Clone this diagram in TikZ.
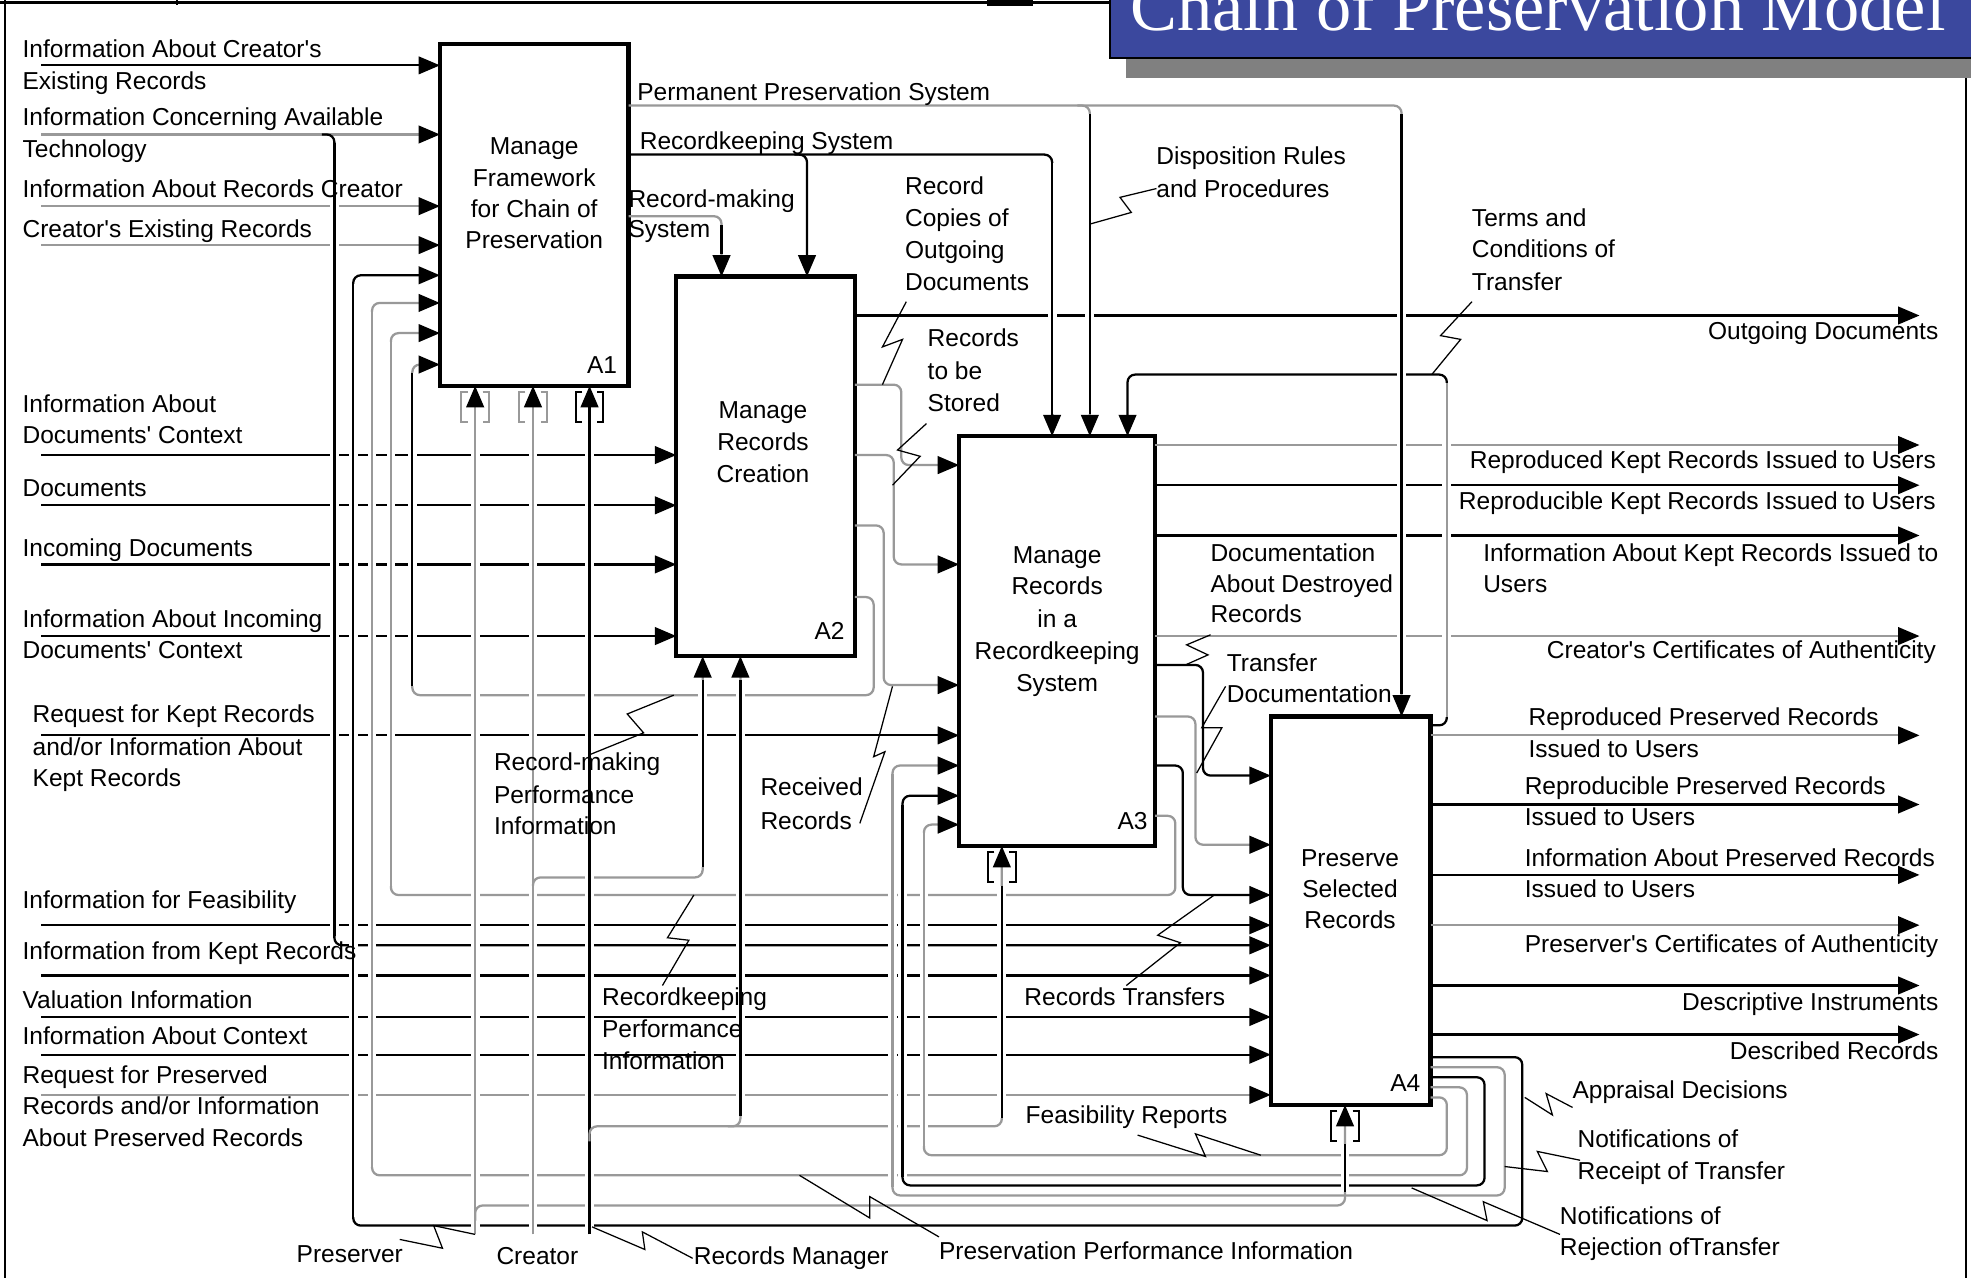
\documentclass[tikz,border=0pt]{standalone}
\usepackage{fontspec}
\setmainfont{Liberation Sans}
\newfontfamily\titlefont{Liberation Serif}
\usetikzlibrary{arrows.meta}
\definecolor{lg}{gray}{0.6}
\definecolor{titleblue}{RGB}{59,72,158}
\definecolor{shadowgray}{gray}{0.5}
\newcommand\myvh[4]{\draw[white,line width=7pt] (#1,#2) -- (#1,#3); \draw[#4,line width=1.8pt] (#1,#2) -- (#1,#3);}
\newcommand\mybrk[3]{\draw[#3,line width=1.5pt] (#1-6,#2) -- (#1-11,#2) -- (#1-11,#2+24) -- (#1-6,#2+24); \draw[#3,line width=1.5pt] (#1+6,#2) -- (#1+11,#2) -- (#1+11,#2+24) -- (#1+6,#2+24);}
\newcommand\lblw[4]{\node[lab,anchor=base west] (#1) at (#2,#3) {#4};}
\newcommand\lble[4]{\node[lab,anchor=base east] (#1) at (#2,#3) {#4};}
\newcommand\lblc[4]{\node[lab,anchor=base] (#1) at (#2,#3) {#4};}
\newcommand\q{\textquotesingle}
\begin{document}
\begin{tikzpicture}[x=1pt,y=-1pt,
 ln/.style={line width=1.8pt,rounded corners=6pt},
 ar/.style={ln,-{Triangle[length=17pt,width=14pt,color=black]}},
 zz/.style={line width=1pt},
 lab/.style={font=\fontsize{19.5}{23}\selectfont,inner sep=0pt,outer sep=0pt},
 actbox/.style={draw,line width=3.4pt,inner sep=0pt,outer sep=0pt}]
\useasboundingbox (0,0) rectangle (1568,1017);
\fill[white] (0,0) rectangle (1568,1017);
\begin{scope}
\clip (0,0) rectangle (1568,1017);
% frame
\draw[line width=2pt] (0,2) -- (883,2);
\draw[line width=2pt] (4,0) -- (4,1017);
\draw[line width=1.5pt] (141,0) -- (141,4);
\fill (785,0) rectangle (822,5);
\draw[line width=2pt] (1564,62) -- (1564,1017);
% title
\fill[shadowgray] (896,46) rectangle (1568,62);
\fill[titleblue] (883,-10) rectangle (1568,46);
\draw[line width=2pt] (883,-10) -- (883,46) -- (1568,46);
\node[anchor=base west,inner sep=0pt,text=white,font=\titlefont\fontsize{56}{60}\selectfont] (title) at (899,24) {Chain of Preservation Model};
% boxes
\node[actbox,minimum width=150pt,minimum height=272pt] (A1) at (425,171) {};
\node[actbox,minimum width=142pt,minimum height=302pt] (A2) at (609,371) {};
\node[actbox,minimum width=156pt,minimum height=326pt] (A3) at (841,510) {};
\node[actbox,minimum width=127pt,minimum height=309pt] (A4) at (1074.5,724.5) {};
% inputs to A1
\draw[ar] (33,52) -- (A1.west |- 0,52);
\draw[ar,lg] (33,107) -- (A1.west |- 0,107);
\draw[ar,lg] (33,164) -- (A1.west |- 0,164);
\draw[ar,lg] (33,195) -- (A1.west |- 0,195);
\draw[ar] (256,107) -- (266,107) -- (266,752) -- (A4.west |- 0,752);
% inputs to A2, A3, A4
\draw[ar] (33,362) -- (A2.west |- 0,362);
\draw[ar] (33,402) -- (A2.west |- 0,402);
\draw[ar] (33,449) -- (A2.west |- 0,449);
\draw[ar] (33,506) -- (A2.west |- 0,506);
\draw[ar] (33,585) -- (A3.west |- 0,585);
\draw[ar] (33,736) -- (A4.west |- 0,736);
\draw[ar] (33,776) -- (A4.west |- 0,776);
\draw[ar] (33,809) -- (A4.west |- 0,809);
\draw[ar] (33,839) -- (A4.west |- 0,839);
\draw[ar,lg] (33,871) -- (A4.west |- 0,871);
% controls from A1
\draw[ar,lg] (A1.east |- 0,84) -- (1115,84) -- (1115,0 |- A4.north);
\draw[ar,lg] (857,84) -- (867,84) -- (867,0 |- A3.north);
\draw[ar] (A1.east |- 0,123) -- (837,123) -- (837,0 |- A3.north);
\draw[ar] (632,123) -- (642,123) -- (642,0 |- A2.north);
\draw[ar,lg] (A1.east |- 0,172) -- (574,172) -- (574,0 |- A2.north);
% mechanisms
\draw[ar,lg] (378,982) -- (378,0 |- A1.south);
\draw[ar,lg] (424,982) -- (424,0 |- A1.south);
\draw[ar] (469,982) -- (469,0 |- A1.south);
\draw[ar,lg] (378,971) -- (378,959) -- (1070,959) -- (1070,0 |- A4.south);
\draw[ar,lg] (424,710) -- (424,698) -- (559,698) -- (559,0 |- A2.south);
\draw[ar,lg] (469,908) -- (469,896) -- (797,896) -- (797,0 |- A3.south);
\draw[ar,lg] (579,896) -- (589,896) -- (589,0 |- A2.south);
% A2 outputs
\draw[ar] (A2.east |- 0,251) -- (1527,251);
\draw[ar,lg] (A2.east |- 0,306) -- (717,306) -- (717,370) -- (A3.west |- 0,370);
\draw[ar,lg] (A2.east |- 0,362) -- (711,362) -- (711,449) -- (A3.west |- 0,449);
\draw[ar,lg] (A2.east |- 0,418) -- (703,418) -- (703,545) -- (A3.west |- 0,545);
\draw[ar,lg] (A2.east |- 0,475) -- (695,475) -- (695,553) -- (328,553) -- (328,290) -- (A1.west |- 0,290);
% A3 outputs
\draw[ar,lg] (A3.east |- 0,354) -- (1527,354);
\draw[ar] (A3.east |- 0,386) -- (1527,386);
\draw[ar] (A3.east |- 0,426) -- (1527,426);
\draw[ar,lg] (A3.east |- 0,506) -- (1527,506);
\draw[ar] (A3.east |- 0,529) -- (957,529) -- (957,617) -- (A4.west |- 0,617);
\draw[ar,lg] (A3.east |- 0,570) -- (951,570) -- (951,672) -- (A4.west |- 0,672);
\draw[ar] (A3.east |- 0,609) -- (941,609) -- (941,712) -- (A4.west |- 0,712);
\draw[ar,lg] (A3.east |- 0,649) -- (935,649) -- (935,712) -- (311,712) -- (311,265) -- (A1.west |- 0,265);
% A4 outputs
\draw[ar] (A4.east |- 0,577) -- (1151,577) -- (1151,298) -- (897,298) -- (897,0 |- A3.north);
\draw[ar,lg] (A4.east |- 0,585) -- (1527,585);
\draw[ar] (A4.east |- 0,640) -- (1527,640);
\draw[ar] (A4.east |- 0,696) -- (1527,696);
\draw[ar,lg] (A4.east |- 0,736) -- (1527,736);
\draw[ar] (A4.east |- 0,784) -- (1527,784);
\draw[ar] (A4.east |- 0,823) -- (1527,823);
% feedback loops
\draw[ar] (A4.east |- 0,841) -- (1211,841) -- (1211,975) -- (281,975) -- (281,219) -- (A1.west |- 0,219);
\draw[ar,lg] (A4.east |- 0,849) -- (1197,849) -- (1197,951) -- (710,951) -- (710,609) -- (A3.west |- 0,609);
\draw[ar] (A4.east |- 0,857) -- (1181,857) -- (1181,943) -- (718,943) -- (718,633) -- (A3.west |- 0,633);
\draw[ar,lg] (A4.east |- 0,865) -- (1167,865) -- (1167,935) -- (296,935) -- (296,241) -- (A1.west |- 0,241);
\draw[ar,lg] (A4.east |- 0,873) -- (1151,873) -- (1151,919) -- (735,919) -- (735,656) -- (A3.west |- 0,656);
% vertical segments over crossings
\myvh{266}{114}{745}{black}
\myvh{281}{226}{968}{black}
\myvh{296}{248}{928}{lg}
\myvh{311}{272}{705}{lg}
\myvh{328}{297}{546}{black}
\myvh{378}{326}{950}{lg}
\myvh{378}{972}{982}{lg}
\myvh{424}{326}{690}{lg}
\myvh{424}{705}{982}{lg}
\myvh{469}{326}{887}{black}
\myvh{469}{909}{982}{black}
\myvh{559}{541}{690}{black}
\myvh{589}{541}{888}{black}
\myvh{574}{179}{202}{black}
\myvh{710}{616}{944}{lg}
\myvh{718}{640}{936}{black}
\myvh{735}{663}{912}{lg}
\myvh{797}{705}{889}{black}
\myvh{837}{130}{329}{black}
\myvh{867}{91}{329}{black}
\myvh{1115}{91}{552}{black}
\myvh{1151}{305}{570}{lg}
\myvh{1070}{910}{948}{black}
% tunnel brackets
\mybrk{378}{312}{lg}
\mybrk{424}{312}{lg}
\mybrk{469}{312}{black}
\mybrk{797}{678}{black}
\mybrk{1070}{884}{black}
% squiggles
\draw[zz] (868,178) -- (900,169) -- (891,157) -- (920,150);
\draw[zz] (721,240) -- (702,276) -- (718,270) -- (702,306);
\draw[zz] (737,337) -- (714,358) -- (732,363) -- (710,386);
\draw[zz] (1171,240) -- (1146,267) -- (1162,270) -- (1139,298);
\draw[zz] (963,505) -- (944,513) -- (961,521) -- (943,529);
\draw[zz] (975,546) -- (956,579) -- (972,579) -- (952,615);
\draw[zz] (536,553) -- (499,568) -- (512,583) -- (470,600);
\draw[zz] (710,546) -- (695,602) -- (704,598) -- (684,655);
\draw[zz] (552,712) -- (531,746) -- (548,748) -- (527,784);
\draw[zz] (966,712) -- (921,744) -- (939,750) -- (896,784);
\draw[zz] (905,903) -- (959,920) -- (951,902) -- (1003,919);
\draw[zz] (1213,873) -- (1235,887) -- (1230,870) -- (1251,881);
\draw[zz] (1197,928) -- (1231,932) -- (1223,916) -- (1257,923);
\draw[zz] (1123,945) -- (1183,971) -- (1180,956) -- (1241,982);
\draw[zz] (636,935) -- (692,969) -- (692,952) -- (747,984);
\draw[zz] (471,976) -- (513,994) -- (511,980) -- (551,1001);
\draw[zz] (318,986) -- (352,993) -- (345,975) -- (378,982);
% box texts
\lblc{a1a}{425}{123}{Manage}
\lblc{a1b}{425}{148}{Framework}
\lblc{a1c}{425}{173}{for Chain of}
\lblc{a1d}{425}{198}{Preservation}
\lblc{a1n}{479}{297}{A1}
\lblc{a2a}{607}{333}{Manage}
\lblc{a2b}{607}{358}{Records}
\lblc{a2c}{607}{384}{Creation}
\lblc{a2n}{660}{509}{A2}
\lblc{a3a}{841}{448}{Manage}
\lblc{a3b}{841}{473}{Records}
\lblc{a3c}{841}{499}{in a}
\lblc{a3d}{841}{525}{Recordkeeping}
\lblc{a3e}{841}{550}{System}
\lblc{a3n}{901}{660}{A3}
\lblc{a4a}{1074}{689}{Preserve}
\lblc{a4b}{1074}{714}{Selected}
\lblc{a4c}{1074}{739}{Records}
\lblc{a4n}{1118}{868}{A4}
% left labels
\lblw{t1}{18}{46}{Information About Creator\q s}
\lblw{t2}{18}{71}{Existing Records}
\lblw{t3}{18}{100}{Information Concerning Available}
\lblw{t4}{18}{125}{Technology}
\lblw{t5}{18}{157}{Information About Records Creator}
\lblw{t6}{18}{189}{Creator\q s Existing Records}
\lblw{t7}{18}{328}{Information About}
\lblw{t8}{18}{353}{Documents\q\ Context}
\lblw{t9}{18}{395}{Documents}
\lblw{t10}{18}{443}{Incoming Documents}
\lblw{t11}{18}{499}{Information About Incoming}
\lblw{t12}{18}{524}{Documents\q\ Context}
\lblw{t13}{26}{575}{Request for Kept Records}
\lblw{t14}{26}{601}{and/or Information About}
\lblw{t15}{26}{626}{Kept Records}
\lblw{t16}{18}{723}{Information for Feasibility}
\lblw{t17}{18}{763}{Information from Kept Records}
\lblw{t18}{18}{802}{Valuation Information}
\lblw{t19}{18}{831}{Information About Context}
\lblw{t20}{18}{862}{Request for Preserved}
\lblw{t21}{18}{887}{Records and/or Information}
\lblw{t22}{18}{912}{About Preserved Records}
% top and middle labels
\lblw{t23}{507}{80}{Permanent Preservation System}
\lblw{t24}{509}{119}{Recordkeeping System}
\lblw{t25}{500}{165}{Record-making}
\lblw{t26}{500}{189}{System}
\lblw{t27}{720}{155}{Record}
\lblw{t28}{720}{180}{Copies of}
\lblw{t29}{720}{206}{Outgoing}
\lblw{t30}{720}{231}{Documents}
\lblw{t31}{738}{276}{Records}
\lblw{t32}{738}{302}{to be}
\lblw{t33}{738}{327}{Stored}
\lblw{t34}{920}{131}{Disposition Rules}
\lblw{t35}{920}{157}{and Procedures}
\lblw{t36}{1171}{180}{Terms and}
\lblw{t37}{1171}{205}{Conditions of}
\lblw{t38}{1171}{231}{Transfer}
\lble{t39}{1542}{270}{Outgoing Documents}
\lble{t40}{1540}{373}{Reproduced Kept Records Issued to Users}
\lble{t41}{1540}{405}{Reproducible Kept Records Issued to Users}
\lblw{t42}{1180}{447}{Information About Kept Records Issued to}
\lblw{t43}{1180}{471}{Users}
\lblw{t44}{963}{447}{Documentation}
\lblw{t45}{963}{471}{About Destroyed}
\lblw{t46}{963}{495}{Records}
\lble{t47}{1540}{524}{Creator\q s Certificates of Authenticity}
\lblw{t48}{976}{534}{Transfer}
\lblw{t49}{976}{559}{Documentation}
\lblw{t50}{1216}{577}{Reproduced Preserved Records}
\lblw{t51}{1216}{603}{Issued to Users}
\lblw{t52}{1213}{632}{Reproducible Preserved Records}
\lblw{t53}{1213}{657}{Issued to Users}
\lblw{t54}{1213}{689}{Information About Preserved Records}
\lblw{t55}{1213}{714}{Issued to Users}
\lblw{t56}{1213}{758}{Preserver\q s Certificates of Authenticity}
\lble{t57}{1542}{804}{Descriptive Instruments}
\lble{t58}{1542}{843}{Described Records}
\lblw{t59}{1251}{874}{Appraisal Decisions}
\lblw{t60}{1255}{913}{Notifications of}
\lblw{t61}{1255}{938}{Receipt of Transfer}
\lblw{t62}{1241}{974}{Notifications of}
\lblw{t63}{1241}{999}{Rejection ofTransfer}
\lblw{t64}{605}{633}{Received}
\lblw{t65}{605}{660}{Records}
\lblw{t66}{393}{613}{Record-making}
\lblw{t67}{393}{639}{Performance}
\lblw{t68}{393}{664}{Information}
\lblw{t69}{479}{800}{Recordkeeping}
\lblw{t70}{479}{825}{Performance}
\lblw{t71}{479}{851}{Information}
\lblw{t72}{815}{800}{Records Transfers}
\lblw{t73}{816}{894}{Feasibility Reports}
\lblw{t74}{236}{1004}{Preserver}
\lblw{t75}{395}{1006}{Creator}
\lblw{t76}{552}{1006}{Records Manager}
\lblw{t77}{747}{1002}{Preservation Performance Information}
\end{scope}
\end{tikzpicture}
\end{document}
